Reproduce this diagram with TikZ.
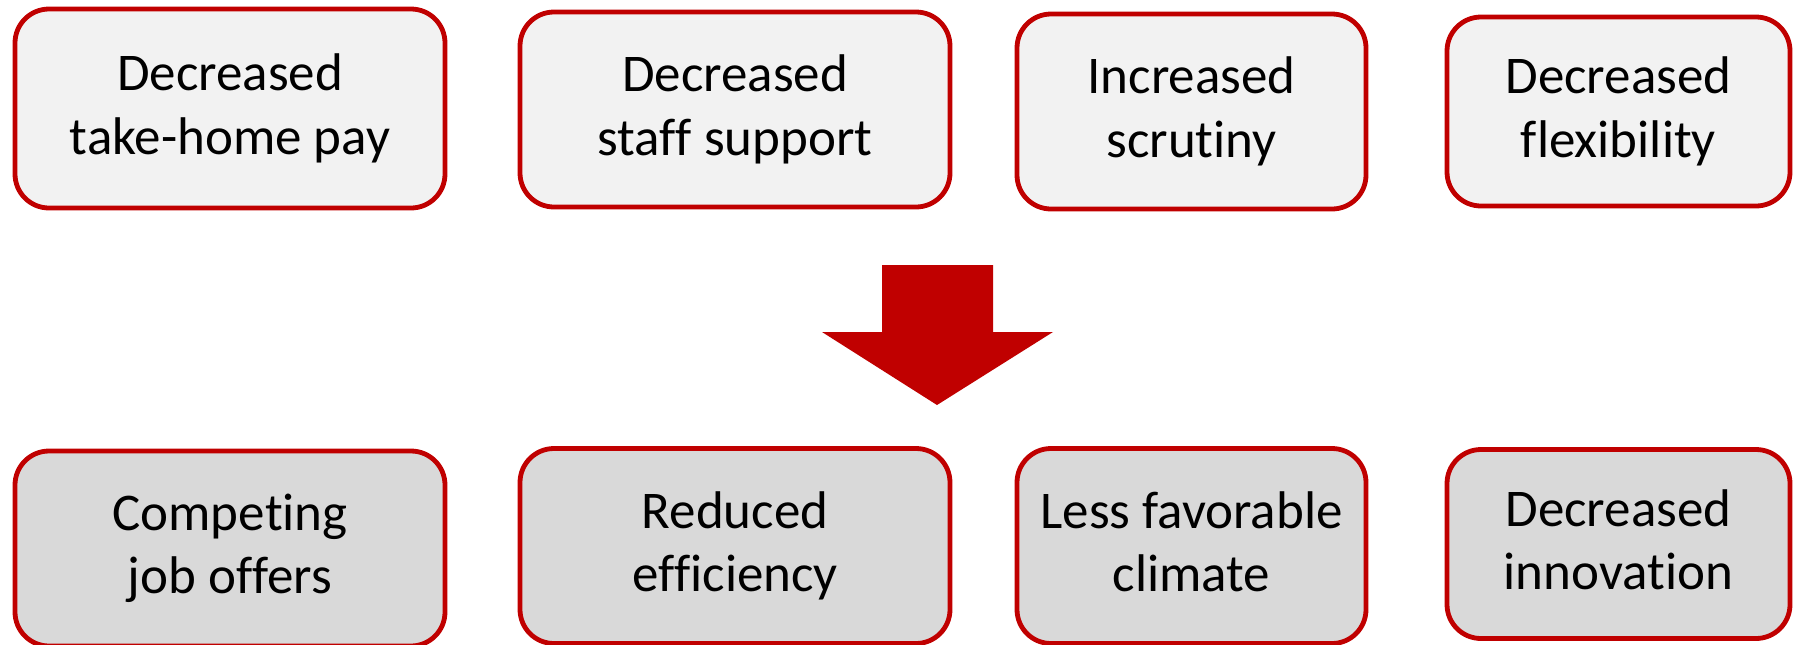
\documentclass[tikz,border=0pt]{standalone}
\usepackage{fontspec}
\setmainfont{Carlito}[Ligatures=NoCommon]
\definecolor{boxred}{HTML}{C00000}
\definecolor{lightfill}{HTML}{F2F2F2}
\definecolor{darkfill}{HTML}{D9D9D9}
%% keeps f, i and t apart
\newcommand{\nolig}{\kern0pt }
\begin{document}
\begin{tikzpicture}[x=0.5pt, y=-0.5pt]

	\useasboundingbox (0,0) rectangle (1794,644);
	\clip (0,0) rectangle (1794,644);

	%% The causes row
	\begin{scope}[every node/.style={draw=boxred, line width=2.4pt, fill=lightfill, rounded corners=17pt, align=center, inner sep=0pt, font={\fontsize{26.5}{31.7}\selectfont}, execute at begin node={\rule{0pt}{21.5pt}}, execute at end node={\rule[-4.5pt]{0pt}{4.5pt}}}]
		\node[minimum width=215pt, minimum height=99.5pt] at ( 230,108.5) (1-1) {Decreased\\take-home pay};
		\node[minimum width=215pt, minimum height=97.5pt] at ( 735,109.5) (1-2) {Decreased\\staf\nolig f support};
		\node[minimum width=174.5pt, minimum height=97.5pt] at (1191.5,111.5) (1-3) {Increased\\scru\nolig tiny};
		\node[minimum width=171.5pt, minimum height=94.5pt] at (1618.5,111.5) (1-4) {Decreased\\f\nolig lexibility};
	\end{scope}

	%% The block arrow
	\fill[boxred] (882,265) -- (993,265) -- (993,332) -- (1053,332) -- (937,405) -- (822,332) -- (882,332) -- cycle;

	%% The effects row
	%% Runs off the lower edge of the page
	\begin{scope}[every node/.style={draw=boxred, line width=2.4pt, fill=darkfill, rounded corners=17pt, align=center, inner sep=0pt, font={\fontsize{26.5}{31.7}\selectfont}, execute at begin node={\rule{0pt}{21.5pt}}, execute at end node={\rule[-4.5pt]{0pt}{4.5pt}}}]
		\node[minimum width=215pt, minimum height=97.5pt] at ( 230,548.5) (2-1) {Compe\nolig ting\\job of\nolig fers};
		\node[minimum width=215pt, minimum height=97.5pt] at ( 735,546) (2-2) {Reduced\\ef\nolig f\nolig iciency};
		\node[minimum width=174.5pt, minimum height=97.5pt] at (1191.5,546) (2-3) {Less favorable\\climate};
		\node[minimum width=171.5pt, minimum height=94.5pt] at (1618.5,544) (2-4) {Decreased\\innovation};
	\end{scope}

\end{tikzpicture}
\end{document}
